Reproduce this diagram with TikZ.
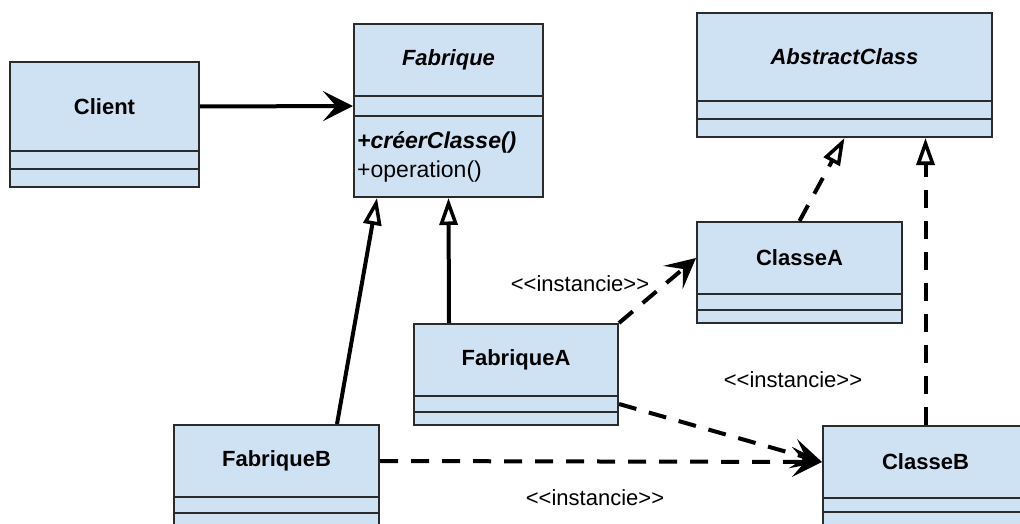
\documentclass[tikz,border=0pt]{standalone}
\usepackage{fontspec}
\setmainfont{Liberation Sans}[Ligatures=TeXOff]
\usetikzlibrary{arrows.meta}
\definecolor{umlfill}{HTML}{CFE2F3}
\definecolor{umlline}{HTML}{2B2B2B}

\begin{document}
\begin{tikzpicture}[x=1pt,y=-1pt]
    \tikzstyle{classbox}=[rectangle, draw=umlline, fill=umlfill, line width=2pt, inner sep=0pt]
    \tikzstyle{titlefont}=[font=\fontsize{22}{26}\selectfont\bfseries]
    \tikzstyle{abstitle}=[font=\fontsize{22}{26}\selectfont\bfseries\itshape]
    \tikzstyle{stereo}=[font=\fontsize{22}{26}\selectfont, inner sep=0pt]
    \tikzstyle{link}=[line width=4pt, black]
    \tikzstyle{dep}=[link, dash pattern=on 18pt off 13pt, -{Stealth[length=30pt,width=30pt,inset=13pt]}]
    \tikzstyle{inherit}=[link, -{Triangle[open,fill=white,length=27pt,width=18pt,line width=3.5pt]}]
    \tikzstyle{realize}=[inherit, dash pattern=on 18pt off 13pt]
    \useasboundingbox (0,0) rectangle (1020,524);
    \fill[white] (0,0) rectangle (1020,524);
    \clip (0,0) rectangle (1020,524);

    \node[classbox, titlefont, minimum width=189pt, minimum height=89pt] (client) at (104.5,106.5) {Client};
    \node[classbox, minimum width=189pt, minimum height=18pt] (clientattr) at (104.5,160) {};
    \node[classbox, minimum width=189pt, minimum height=18pt] (clientops) at (104.5,178) {};

    \node[classbox, abstitle, minimum width=189pt, minimum height=72pt] (fab) at (448.5,60) {Fabrique};
    \node[classbox, minimum width=189pt, minimum height=20pt] (fabattr) at (448.5,106) {};
    \node[classbox, minimum width=189pt, minimum height=81pt] (fabops) at (448.5,156.5) {};
    \node[anchor=west, inner sep=0pt, font=\fontsize{23}{27}\selectfont\bfseries\itshape] (fabcreer) at (357,142) {+créerClasse()};
    \node[anchor=west, inner sep=0pt, font=\fontsize{23}{27}\selectfont] (faboper) at (357,172) {+operation()};

    \node[classbox, abstitle, minimum width=295pt, minimum height=88pt] (abs) at (844.5,57) {AbstractClass};
    \node[classbox, minimum width=295pt, minimum height=18pt] (absattr) at (844.5,110) {};
    \node[classbox, minimum width=295pt, minimum height=18pt] (absops) at (844.5,128) {};

    \node[classbox, titlefont, minimum width=205pt, minimum height=72pt] (classA) at (799.5,258) {ClasseA};
    \node[classbox, minimum width=205pt, minimum height=16pt] (classAattr) at (799.5,302) {};
    \node[classbox, minimum width=205pt, minimum height=13pt] (classAops) at (799.5,316.5) {};

    \node[classbox, titlefont, minimum width=204pt, minimum height=72pt] (fabA) at (516,360) {FabriqueA};
    \node[classbox, minimum width=204pt, minimum height=16pt] (fabAattr) at (516,404) {};
    \node[classbox, minimum width=204pt, minimum height=13pt] (fabAops) at (516,418.5) {};

    \node[classbox, titlefont, minimum width=205pt, minimum height=72pt] (fabB) at (276.5,461) {FabriqueB};
    \node[classbox, minimum width=205pt, minimum height=16pt] (fabBattr) at (276.5,505) {};
    \node[classbox, minimum width=205pt, minimum height=27pt] (fabBops) at (276.5,526.5) {};

    \node[classbox, titlefont, minimum width=205pt, minimum height=72pt] (classB) at (925.5,462) {ClasseB};
    \node[classbox, minimum width=205pt, minimum height=14pt] (classBattr) at (925.5,505) {};
    \node[classbox, minimum width=205pt, minimum height=28pt] (classBops) at (925.5,526) {};

    \node[stereo] (instA) at (580,284) {<<instancie>>};
    \node[stereo] (instB) at (793,380) {<<instancie>>};
    \node[stereo] (instC) at (595,498) {<<instancie>>};

    \draw[link, -{Stealth[length=30pt,width=30pt,inset=13pt]}] (client.east) -- (fabattr.west);
    \draw[inherit] ([xshift=36pt]fabA.north west) -- (fabops.south);
    \draw[inherit] ([xshift=60.5pt]fabB.north) -- ([xshift=24pt]fabops.south west);
    \draw[dep] (fabA.north east) -- (classA.west);
    \draw[dep] (fabAattr.east) -- (classB.west);
    \draw[dep] (fabB.east) -- (classB.west);
    \draw[realize] (classA.north) -- (absops.south);
    \draw[realize] (classB.north) -- (classB.north |- absops.south);

\end{tikzpicture}
\end{document}
